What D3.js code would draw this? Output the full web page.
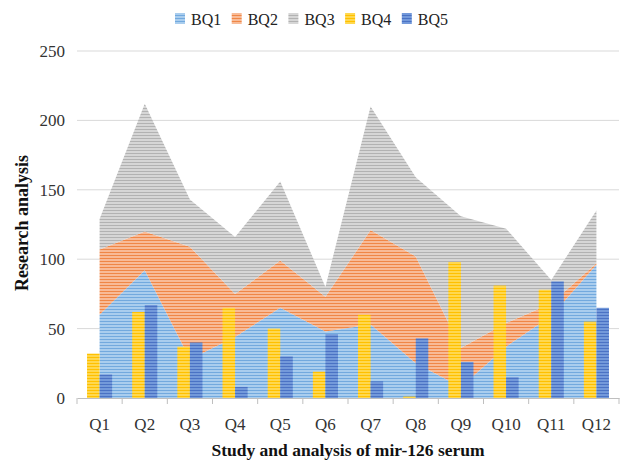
<!DOCTYPE html>
<html>
<head>
<meta charset="utf-8">
<script src="https://cdn.jsdelivr.net/npm/d3@7"></script>
<style>
  body { margin: 0; background: #fff; }
  text { font-family: "Liberation Serif", "Times New Roman", serif; }
</style>
</head>
<body>
<div id="chart"></div>
<script>
// values
var categories = ["Q1", "Q2", "Q3", "Q4", "Q5", "Q6", "Q7", "Q8", "Q9", "Q10", "Q11", "Q12"];
var seriesNames = ["BQ1", "BQ2", "BQ3", "BQ4", "BQ5"];
var bq1 = [60, 92, 28, 44, 65, 48, 53, 25, 8, 37, 59, 96];
var bq2 = [47, 28, 81, 31, 34, 25, 68, 77, 28, 17, 9, 1];
var bq3 = [22, 92, 34, 41, 57, 7, 89, 57, 95, 68, 17, 38];
var bq4 = [32, 62, 37, 65, 50, 19, 60, 1, 98, 81, 78, 55];
var bq5 = [17, 67, 40, 8, 30, 46, 12, 43, 26, 15, 84, 65];
var yTicks = [0, 50, 100, 150, 200, 250];

var colors = {
    BQ1: {base: "#a9cdee", stripe: "#72a9de"},
    BQ2: {base: "#f8bb97", stripe: "#ef8747"},
    BQ3: {base: "#d6d6d6", stripe: "#b2b2b2"},
    BQ4: {base: "#ffd84f", stripe: "#ffc000"},
    BQ5: {base: "#7399da", stripe: "#4a72c4"}
};

var totalWidth = 628, totalHeight = 462;
var plot = {left: 77, right: 619, top: 51, bottom: 398};

var svg = d3.select("#chart").append("svg")
    .attr("width", totalWidth)
    .attr("height", totalHeight);

// striped fills
var defs = svg.append("defs");
seriesNames.forEach(function(name) {
    var p = defs.append("pattern")
        .attr("id", "pat-" + name)
        .attr("patternUnits", "userSpaceOnUse")
        .attr("width", 6)
        .attr("height", 3);
    p.append("rect").attr("width", 6).attr("height", 3).attr("fill", colors[name].base);
    p.append("rect").attr("width", 6).attr("height", 1).attr("fill", colors[name].stripe);
});

var table = categories.map(function(c, i) {
    return {cat: c, BQ1: bq1[i], BQ2: bq2[i], BQ3: bq3[i], BQ4: bq4[i], BQ5: bq5[i]};
});

var x = d3.scaleBand()
    .domain(categories)
    .range([plot.left, plot.right])
    .padding(0);
var y = d3.scaleLinear()
    .domain([0, 250])
    .range([plot.bottom, plot.top]);
var xSub = d3.scaleBand()
    .domain(["BQ4", "BQ5"])
    .range([x.bandwidth() * 0.222, x.bandwidth() * 0.778]);

// gridlines
svg.append("g").selectAll("line")
    .data(yTicks.slice(1))
    .enter()
    .append("line")
    .attr("x1", plot.left)
    .attr("x2", plot.right)
    .attr("y1", function(d) { return y(d); })
    .attr("y2", function(d) { return y(d); })
    .attr("stroke", "#d9d9d9")
    .attr("stroke-width", 1);

// y tick labels
svg.append("g").selectAll("text")
    .data(yTicks)
    .enter()
    .append("text")
    .attr("x", 65)
    .attr("y", function(d) { return y(d) + 6; })
    .attr("text-anchor", "end")
    .attr("font-size", 17)
    .attr("fill", "#333")
    .text(function(d) { return d; });

// stacked areas
var stack = d3.stack().keys(["BQ1", "BQ2", "BQ3"]);
var layers = stack(table);
var area = d3.area()
    .x(function(d) { return x(d.data.cat) + x.bandwidth() / 2; })
    .y0(function(d) { return y(d[0]); })
    .y1(function(d) { return y(d[1]); });

svg.append("g").selectAll("path")
    .data(layers)
    .enter()
    .append("path")
    .attr("d", area)
    .attr("fill", function(d) { return "url(#pat-" + d.key + ")"; });

// bars
var barGroups = svg.append("g").selectAll("g")
    .data(table)
    .enter()
    .append("g")
    .attr("transform", function(d) { return "translate(" + x(d.cat) + ",0)"; });
barGroups.selectAll("rect")
    .data(function(d) { return ["BQ4", "BQ5"].map(function(k) { return {key: k, value: d[k]}; }); })
    .enter()
    .append("rect")
    .attr("x", function(d) { return xSub(d.key); })
    .attr("width", xSub.bandwidth())
    .attr("y", function(d) { return y(d.value); })
    .attr("height", function(d) { return y(0) - y(d.value); })
    .attr("fill", function(d) { return "url(#pat-" + d.key + ")"; });

// x axis
var xAxis = d3.axisBottom(x).tickSize(0).tickPadding(0);
var gx = svg.append("g")
    .attr("transform", "translate(0," + plot.bottom + ")")
    .call(xAxis);
gx.select(".domain").attr("stroke", "#bfbfbf");
gx.selectAll(".tick text")
    .attr("y", 32)
    .attr("dy", null)
    .attr("font-size", 17)
    .attr("font-family", "Liberation Serif")
    .attr("fill", "#333");
gx.selectAll(".bound")
    .data(categories.concat(["end"]))
    .enter()
    .append("line")
    .attr("class", "bound")
    .attr("x1", function(d, i) { return plot.left + i * x.bandwidth(); })
    .attr("x2", function(d, i) { return plot.left + i * x.bandwidth(); })
    .attr("y1", 0)
    .attr("y2", 6)
    .attr("stroke", "#bfbfbf");

// axis titles
svg.append("text")
    .attr("x", (plot.left + plot.right) / 2)
    .attr("y", 456)
    .attr("text-anchor", "middle")
    .attr("font-size", 17.5)
    .attr("font-weight", "bold")
    .attr("fill", "#111")
    .text("Study and analysis of mir-126 serum");

svg.append("text")
    .attr("transform", "translate(28,223) rotate(-90)")
    .attr("text-anchor", "middle")
    .attr("font-size", 18)
    .attr("font-weight", "bold")
    .attr("fill", "#111")
    .text("Research analysis");

// legend
var legend = svg.append("g").selectAll("g")
    .data(seriesNames)
    .enter()
    .append("g")
    .attr("transform", function(d, i) { return "translate(" + (175 + i * 56.7) + ",0)"; });
legend.append("rect")
    .attr("x", 0)
    .attr("y", 13)
    .attr("width", 10)
    .attr("height", 11)
    .attr("fill", function(d) { return "url(#pat-" + d + ")"; });
legend.append("text")
    .attr("x", 16)
    .attr("y", 25)
    .attr("font-size", 16)
    .attr("fill", "#222")
    .text(function(d) { return d; });
</script>
</body>
</html>
